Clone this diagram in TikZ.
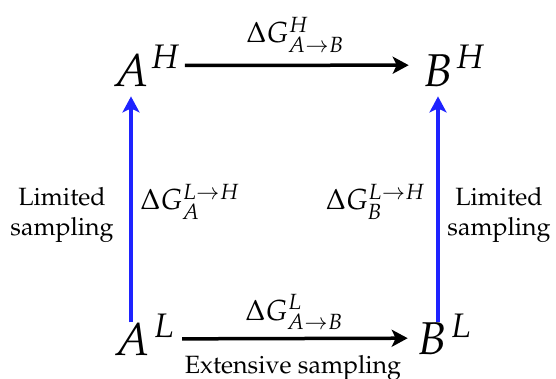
\documentclass[tikz,border=0pt]{standalone}
\usepackage[T1]{fontenc}
\usepackage{mathpazo}
\usetikzlibrary{arrows.meta}
\DeclareMathSizes{29}{29}{22}{16}
\definecolor{arrblue}{RGB}{30,35,255}
\begin{document}
\begin{tikzpicture}[x=1pt,y=-1pt,
  big/.style={inner sep=0pt, font=\fontsize{46}{50}\selectfont},
  supr/.style={inner sep=0pt, font=\fontsize{34}{40}\selectfont},
  lab/.style={inner sep=0pt, font=\fontsize{29}{32}\selectfont},
  txt/.style={inner sep=0pt, font=\fontsize{25}{30}\selectfont, align=center},
  blk/.style={line width=3.5pt, -{Stealth[length=16pt,width=17pt,inset=4pt]}},
  blu/.style={line width=3.5pt, arrblue, -{Stealth[length=16pt,width=17pt,inset=4pt]}}]
\useasboundingbox (0,0) rectangle (556,379);
% main letters
\node[big, anchor=base] (AH) at (131,87) {$A$};
\node[supr, anchor=base west] (AHs) at (150,69) {$H$};
\node[big, anchor=base] (BH) at (438,87) {$B$};
\node[supr, anchor=base west] (BHs) at (455,69) {$H$};
\node[big, anchor=base] (AL) at (132,355) {$A$};
\node[supr, anchor=base west] (ALs) at (153,337) {$L$};
\node[big, anchor=base] (BL) at (432,354) {$B$};
\node[supr, anchor=base west] (BLs) at (450,337) {$L$};
% labels
\node[lab, anchor=base] (gH) at (295,43) {$\Delta G^{H}_{A\rightarrow B}$};
\node[lab, anchor=base] (gL) at (294,320) {$\Delta G^{L}_{A\rightarrow B}$};
\node[lab, anchor=base west] (gA) at (140,210) {$\Delta G_{A}^{L\rightarrow H}$};
\node[lab, anchor=base east] (gB) at (425,210) {$\Delta G_{B}^{L\rightarrow H}$};
\node[txt] (limL) at (62,215) {Limited\\sampling};
\node[txt] (limR) at (499,215) {Limited\\sampling};
\node[txt, anchor=base] (ext) at (293,373) {Extensive sampling};
% arrows
\draw[blk] ([shift={(5,-4)}]AHs.south east) -- ([shift={(-14,-6)}]BH.west);
\draw[blk] ([shift={(8,1.5)}]ALs.south east) -- ([xshift=-9pt]BL.west);
\draw[blu] (AL.north -| AH.south) -- ([yshift=-9pt]AH.south);
\draw[blu] (BL.north -| BH.south) -- ([yshift=-9pt]BH.south);
\end{tikzpicture}
\end{document}
